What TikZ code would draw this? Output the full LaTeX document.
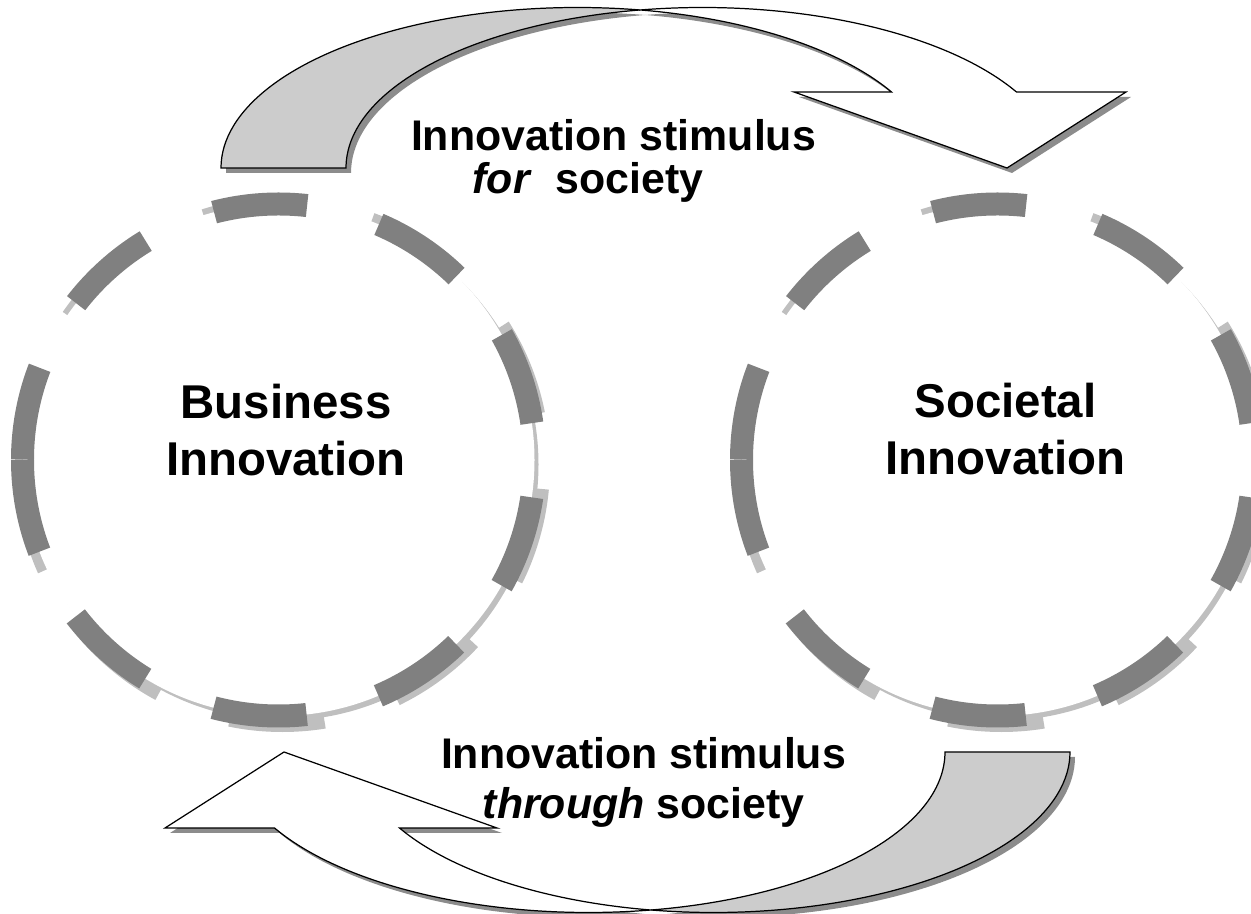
\documentclass[tikz,border=0pt]{standalone}
\usepackage{fontspec}
\setmainfont{Liberation Sans}
\begin{document}
\begin{tikzpicture}[x=0.02cm, y=0.02cm,
    ring/.style={draw=black!50, line width=0.46cm, dash pattern=on 1.876cm off 1.49cm},
    ringshadow/.style={black!25, line width=0.46cm, dash pattern=on 1.876cm off 1.49cm},
    arrowback/.style={draw=black, line width=0.7pt, fill=black!20},
    arrowfront/.style={draw=black, line width=0.7pt, fill=white},
    arrowshadow/.style={fill=black!45},
    circletext/.style={align=center, font=\bfseries\fontsize{27}{32.5}\selectfont},
    stimulus/.style={align=center, font=\bfseries\fontsize{24.4}{#1}\selectfont}]
  \path[use as bounding box] (0,0) rectangle (1251,913);
  \clip (0,0) rectangle (1251,913);

  % Two dashed circles, each with a light shadow
  \foreach \cx/\name in {278.5/biz, 997.5/soc} {
    \coordinate (\name) at (\cx,453);
    \coordinate (\name sh) at (\cx+4,448.5);
    \fill[black!25] (\name sh) circle[radius=256];
    \draw[ringshadow] (\name sh) ++(183:256) arc[start angle=183, end angle=543, radius=256];
    \fill[white] (\name) circle[radius=256];
    \draw[ring] (\name) ++(180:256) arc[start angle=180, end angle=540, radius=256];
  }

  \node[circletext] (bizlabel) at (286,482.7) {Business\\Innovation};
  \node[circletext] (soclabel) at (1005.5,484) {Societal\\Innovation};

  % Curved arrows: the lower one is the upper one turned by 180 degrees
  \foreach \turn in {0,180} {
    \begin{scope}[shift={(5,-5)}]
      \begin{scope}[rotate around={\turn:(645.5,453)}, x radius=356.5, y radius=160.5]
        \fill[arrowshadow] (221,745) arc[start angle=180, end angle=79.9]
          arc[start angle=100.1, end angle=180] -- cycle;
        \fill[arrowshadow] (640,903) arc[start angle=100.1, end angle=28.26]
          -- (1126,821) -- (1007,745) -- (794,821) -- (891.5,821)
          arc[start angle=28.26, end angle=79.9] -- cycle;
      \end{scope}
    \end{scope}
    \begin{scope}[rotate around={\turn:(645.5,453)}, x radius=356.5, y radius=160.5]
      \coordinate (tail) at (221,745);
      \coordinate (cross) at (640,903);
      \draw[arrowback] (tail) arc[start angle=180, end angle=79.9]
        arc[start angle=100.1, end angle=180] -- cycle;
      \draw[arrowfront] (cross) arc[start angle=100.1, end angle=28.26]
        -- (1126,821) -- (1007,745) -- (794,821) -- (891.5,821)
        arc[start angle=28.26, end angle=79.9] -- cycle;
    \end{scope}
  }

  \node[stimulus=24.4] (forlabel) at (613.5,752.4)
    {Innovation stimulus\\\textit{for}\ \ society\hspace*{1.02cm}};
  \node[stimulus=28.5] (throughlabel) at (643.5,130.9)
    {Innovation stimulus\\\textit{through} society};
\end{tikzpicture}
\end{document}
